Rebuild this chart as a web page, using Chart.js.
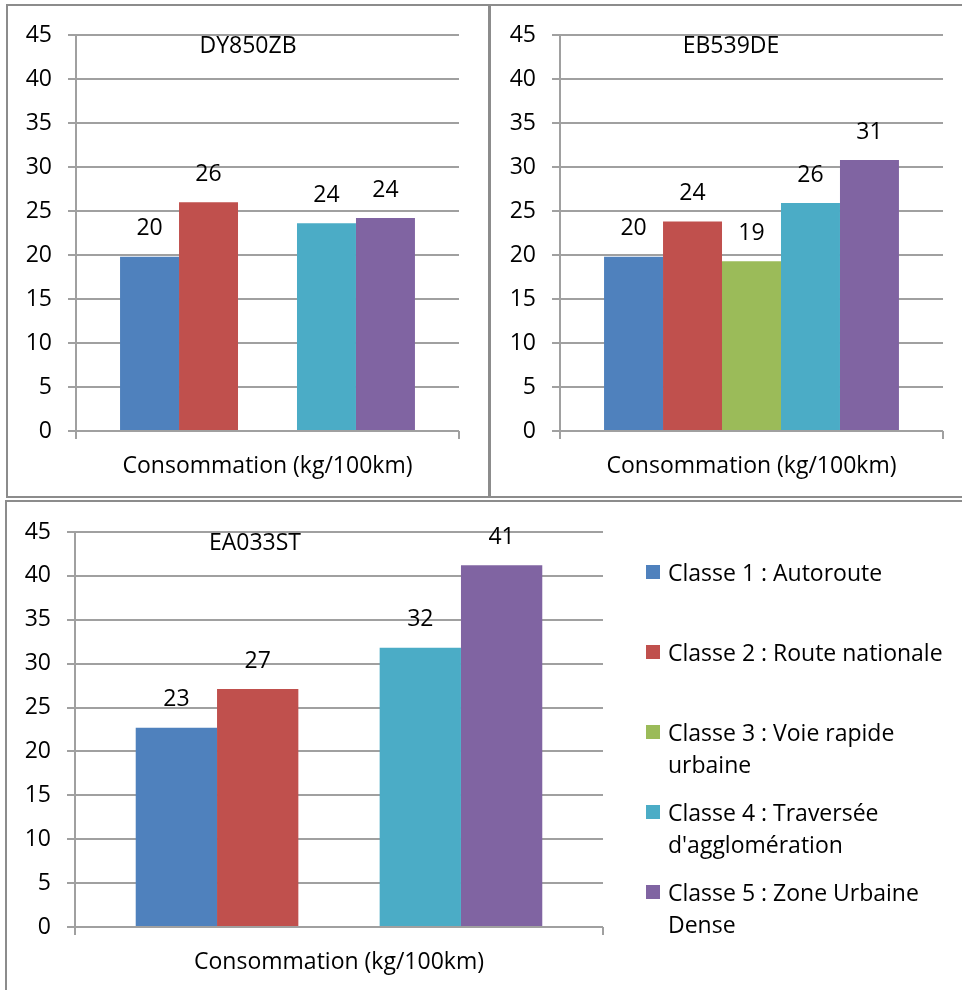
<!DOCTYPE html>
<html>
<head>
<meta charset="utf-8">
<script src="https://cdn.jsdelivr.net/npm/chart.js@4.4.1/dist/chart.umd.min.js"></script>
<style>
  body { margin: 0; background: #fff; font-family: "Open Sans", sans-serif; }
  .cadre { position: absolute; box-sizing: border-box; border: 2px solid #8c8c8c; }
  canvas { position: absolute; }
  #legende { position: absolute; left: 646px; top: 0; }
  .item { position: absolute; left: 0; width: 300px; padding-left: 22px; font-size: 23px; line-height: 32px; color: #000; }
  .item span { position: absolute; left: 0; top: 9px; width: 14px; height: 14px; }
</style>
</head>
<body>
<div class="cadre" style="left:6px;top:4px;width:484px;height:494px"></div>
<div class="cadre" style="left:489px;top:4px;width:480px;height:494px"></div>
<div class="cadre" style="left:5px;top:500px;width:965px;height:500px"></div>
<canvas id="graficoDY" style="left:0;top:0" width="489" height="497"></canvas>
<canvas id="graficoEB" style="left:489px;top:0" width="473" height="497"></canvas>
<canvas id="graficoEA" style="left:0;top:497px" width="962" height="493"></canvas>
<div id="legende"></div>
<script>
const classes = [
    "Classe 1 : Autoroute",
    "Classe 2 : Route nationale",
    "Classe 3 : Voie rapide urbaine",
    "Classe 4 : Traversée d'agglomération",
    "Classe 5 : Zone Urbaine Dense"
];
const cores = ["#4f81bd", "#c0504d", "#9bbb59", "#4bacc6", "#8064a2"];
const categoria = ["Consommation (kg/100km)"];

// valeurs par vehicule (classe 1 a 5), null = pas de donnee
const consoDY850ZB = [19.8, 26.0, null, 23.6, 24.2];
const consoEB539DE = [19.8, 23.8, 19.3, 25.9, 30.8];
const consoEA033ST = [22.7, 27.1, null, 31.8, 41.2];

const yMax = 45;
const yPasso = 5;

const fonte = { family: "'Open Sans', sans-serif", size: 23 };
const cinza = "#a0a0a0";

// titre dessine dans la zone du graphique, comme dans Excel
const tituloPlugin = {
    id: "tituloDentro",
    afterDraw(chart, args, opts) {
        const ctx = chart.ctx;
        ctx.save();
        ctx.font = "23px 'Open Sans', sans-serif";
        ctx.fillStyle = "#000";
        ctx.textAlign = "center";
        ctx.textBaseline = "middle";
        ctx.fillText(opts.texto, opts.x, chart.chartArea.top + 11);
        ctx.restore();
    }
};

// etiquettes des valeurs au dessus des barres
const rotulosPlugin = {
    id: "rotulos",
    afterDatasetsDraw(chart) {
        const ctx = chart.ctx;
        ctx.save();
        ctx.font = "23px 'Open Sans', sans-serif";
        ctx.fillStyle = "#000";
        ctx.textAlign = "center";
        ctx.textBaseline = "middle";
        chart.data.datasets.forEach((dataset, i) => {
            const meta = chart.getDatasetMeta(i);
            meta.data.forEach((barra, j) => {
                const valor = dataset.data[j];
                if (valor === null) return;
                ctx.fillText(Math.round(valor), barra.x, barra.y - 28);
            });
        });
        ctx.restore();
    }
};

function criaGrafico(id, titulo, valores, tituloX, padding) {
    return new Chart(document.getElementById(id), {
        type: "bar",
        data: {
            labels: categoria,
            datasets: classes.map((classe, i) => ({
                label: classe,
                data: [valores[i]],
                backgroundColor: cores[i],
                borderWidth: 0,
                barPercentage: 1,
                categoryPercentage: 0.77,
            })),
        },
        options: {
            responsive: false,
            animation: false,
            layout: { padding: padding },
            plugins: {
                legend: { display: false },
                tooltip: { enabled: false },
                tituloDentro: { texto: titulo, x: tituloX },
            },
            scales: {
                x: {
                    afterFit: (scale) => { scale.height = 56; },
                    grid: { drawOnChartArea: false, tickLength: 8, color: cinza, lineWidth: 2, offset: true },
                    border: { display: false },
                    ticks: { color: "#000", font: fonte, padding: 14, maxRotation: 0 },
                },
                y: {
                    min: 0,
                    max: yMax,
                    afterFit: (scale) => { scale.width = 66; },
                    grid: { color: cinza, lineWidth: 2, tickLength: 8 },
                    border: { color: cinza, width: 2 },
                    ticks: { stepSize: yPasso, color: "#000", font: fonte, padding: 16 },
                },
            },
        },
        plugins: [tituloPlugin, rotulosPlugin],
    });
}

criaGrafico("graficoDY", "DY850ZB", consoDY850ZB, 248, { left: 10, right: 30, top: 35, bottom: 10 });
criaGrafico("graficoEB", "EB539DE", consoEB539DE, 242, { left: 5, right: 19, top: 35, bottom: 10 });
criaGrafico("graficoEA", "EA033ST", consoEA033ST, 255, { left: 9, right: 359, top: 35, bottom: 7 });

const legende = document.getElementById("legende");
classes.forEach((classe, i) => {
    const item = document.createElement("div");
    item.className = "item";
    item.style.top = (556 + i * 80) + "px";
    item.innerHTML = '<span style="background:' + cores[i] + '"></span>' + classe;
    legende.appendChild(item);
});
</script>
</body>
</html>
